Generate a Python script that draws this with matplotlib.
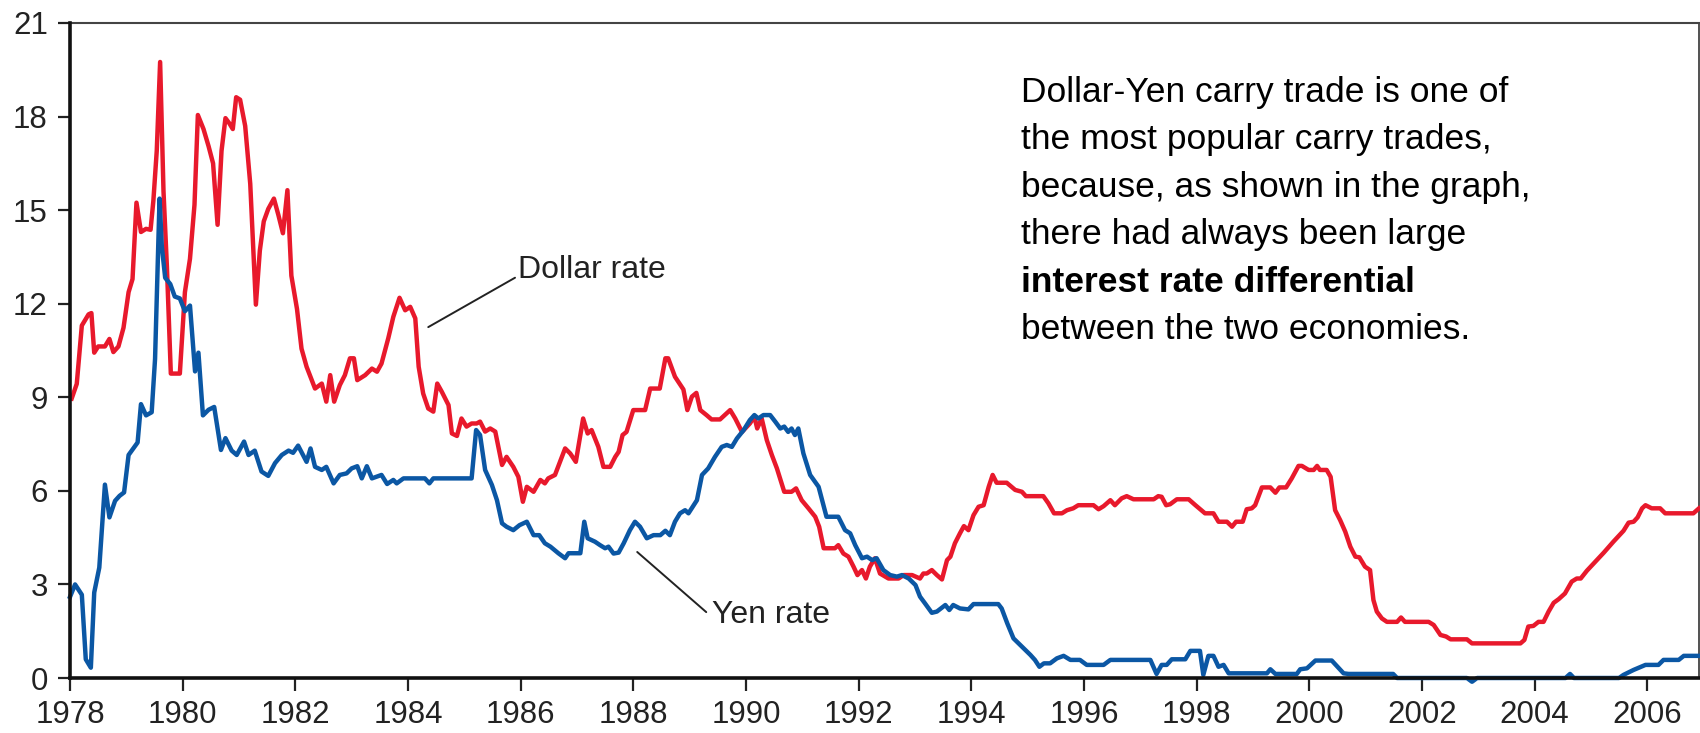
import matplotlib
matplotlib.use("Agg")
import matplotlib.pyplot as plt

# ── DATA ───────────────────────────────────────────────────────────────────────
dollar_years = [
    1978.03, 1978.12, 1978.21, 1978.33, 1978.38, 1978.43, 1978.50, 1978.62, 1978.70, 1978.77,
    1978.86, 1978.95, 1979.04, 1979.11, 1979.18, 1979.26, 1979.35, 1979.43, 1979.48, 1979.54,
    1979.60, 1979.66, 1979.72, 1979.79, 1979.95, 1980.04, 1980.13, 1980.21, 1980.27, 1980.37,
    1980.46, 1980.54, 1980.62, 1980.69, 1980.76, 1980.83, 1980.89, 1980.95, 1981.02, 1981.11,
    1981.20, 1981.30, 1981.37, 1981.44, 1981.52, 1981.62, 1981.70, 1981.78, 1981.86, 1981.93,
    1982.03, 1982.11, 1982.20, 1982.35, 1982.47, 1982.55, 1982.62, 1982.69, 1982.79, 1982.88,
    1982.97, 1983.04, 1983.10, 1983.24, 1983.36, 1983.45, 1983.53, 1983.65, 1983.74, 1983.85,
    1983.95, 1984.04, 1984.13, 1984.19, 1984.27, 1984.36, 1984.45, 1984.52, 1984.60, 1984.72,
    1984.78, 1984.87, 1984.95, 1985.04, 1985.13, 1985.22, 1985.28, 1985.37, 1985.46, 1985.55,
    1985.67, 1985.75, 1985.87, 1985.96, 1986.04, 1986.11, 1986.23, 1986.35, 1986.43, 1986.49,
    1986.61, 1986.79, 1986.88, 1986.98, 1987.11, 1987.19, 1987.26, 1987.38, 1987.47, 1987.59,
    1987.68, 1987.74, 1987.81, 1987.88, 1988.00, 1988.21, 1988.30, 1988.47, 1988.57, 1988.62,
    1988.74, 1988.89, 1988.96, 1989.04, 1989.12, 1989.19, 1989.30, 1989.39, 1989.54, 1989.72,
    1989.81, 1989.93, 1990.07, 1990.15, 1990.20, 1990.28, 1990.37, 1990.46, 1990.55, 1990.68,
    1990.81, 1990.89, 1990.99, 1991.11, 1991.23, 1991.30, 1991.38, 1991.58, 1991.64, 1991.73,
    1991.82, 1991.91, 1991.98, 1992.06, 1992.13, 1992.20, 1992.29, 1992.38, 1992.53, 1992.71,
    1992.80, 1992.95, 1993.09, 1993.15, 1993.21, 1993.30, 1993.39, 1993.48, 1993.57, 1993.63,
    1993.71, 1993.80, 1993.87, 1993.95, 1994.04, 1994.13, 1994.22, 1994.31, 1994.38, 1994.45,
    1994.63, 1994.78, 1994.90, 1994.97, 1995.28, 1995.37, 1995.47, 1995.61, 1995.70, 1995.81,
    1995.90, 1996.17, 1996.26, 1996.35, 1996.47, 1996.55, 1996.67, 1996.76, 1996.88, 1997.24,
    1997.32, 1997.38, 1997.46, 1997.53, 1997.65, 1997.86, 1997.98, 1998.15, 1998.30, 1998.39,
    1998.54, 1998.63, 1998.70, 1998.82, 1998.89, 1998.98, 1999.04, 1999.16, 1999.31, 1999.40,
    1999.47, 1999.59, 1999.69, 1999.81, 1999.87, 1999.99, 2000.08, 2000.14, 2000.19, 2000.31,
    2000.38, 2000.46, 2000.55, 2000.64, 2000.73, 2000.82, 2000.89, 2000.99, 2001.08, 2001.14,
    2001.20, 2001.29, 2001.38, 2001.56, 2001.63, 2001.70, 2002.12, 2002.21, 2002.33, 2002.43,
    2002.51, 2002.80, 2002.89, 2003.75, 2003.82, 2003.89, 2003.98, 2004.07, 2004.16, 2004.25,
    2004.34, 2004.43, 2004.54, 2004.66, 2004.75, 2004.82, 2004.93, 2005.23, 2005.40, 2005.58,
    2005.67, 2005.76, 2005.83, 2005.91, 2005.97, 2006.08, 2006.23, 2006.32, 2006.82, 2006.92,
]
dollar_rate = [
    8.96, 9.43, 11.30, 11.66, 11.70, 10.43, 10.63, 10.63, 10.87, 10.45,
    10.63, 11.23, 12.37, 12.79, 15.24, 14.30, 14.40, 14.37, 15.30, 16.90,
    19.75, 15.60, 13.20, 9.76, 9.76, 12.37, 13.44, 15.17, 18.05, 17.60,
    17.05, 16.50, 14.53, 16.90, 17.95, 17.78, 17.60, 18.62, 18.54, 17.70,
    15.84, 11.97, 13.70, 14.64, 15.04, 15.37, 14.84, 14.26, 15.64, 12.90,
    11.83, 10.56, 9.98, 9.28, 9.44, 8.86, 9.71, 8.86, 9.39, 9.71,
    10.25, 10.25, 9.55, 9.71, 9.92, 9.82, 10.08, 10.89, 11.58, 12.19,
    11.79, 11.90, 11.53, 9.98, 9.12, 8.64, 8.54, 9.44, 9.18, 8.75,
    7.84, 7.76, 8.32, 8.06, 8.16, 8.16, 8.22, 7.90, 8.00, 7.90,
    6.83, 7.09, 6.77, 6.45, 5.65, 6.13, 5.97, 6.35, 6.24, 6.40,
    6.51, 7.36, 7.20, 6.93, 8.32, 7.84, 7.95, 7.41, 6.77, 6.77,
    7.09, 7.25, 7.79, 7.89, 8.59, 8.59, 9.28, 9.28, 10.25, 10.25,
    9.66, 9.25, 8.59, 9.02, 9.14, 8.59, 8.43, 8.29, 8.29, 8.59,
    8.32, 7.89, 8.16, 8.38, 8.00, 8.32, 7.63, 7.15, 6.72, 5.97,
    5.97, 6.08, 5.70, 5.44, 5.17, 4.85, 4.16, 4.16, 4.26, 3.99,
    3.89, 3.57, 3.30, 3.46, 3.19, 3.57, 3.84, 3.35, 3.19, 3.19,
    3.30, 3.30, 3.19, 3.35, 3.35, 3.46, 3.30, 3.16, 3.78, 3.89,
    4.32, 4.64, 4.87, 4.74, 5.22, 5.49, 5.54, 6.13, 6.51, 6.26,
    6.26, 6.03, 5.97, 5.83, 5.83, 5.60, 5.28, 5.28, 5.38, 5.44,
    5.54, 5.54, 5.41, 5.51, 5.70, 5.54, 5.76, 5.83, 5.73, 5.73,
    5.83, 5.81, 5.54, 5.57, 5.73, 5.73, 5.54, 5.28, 5.28, 5.01,
    5.01, 4.85, 5.01, 5.01, 5.41, 5.44, 5.54, 6.11, 6.11, 5.94,
    6.11, 6.11, 6.40, 6.80, 6.80, 6.67, 6.67, 6.80, 6.67, 6.67,
    6.45, 5.38, 5.06, 4.69, 4.21, 3.89, 3.87, 3.57, 3.46, 2.50,
    2.13, 1.91, 1.80, 1.80, 1.94, 1.80, 1.80, 1.70, 1.38, 1.33,
    1.24, 1.24, 1.11, 1.11, 1.22, 1.65, 1.67, 1.80, 1.80, 2.13,
    2.41, 2.53, 2.71, 3.09, 3.19, 3.19, 3.44, 4.02, 4.37, 4.72,
    4.98, 5.01, 5.15, 5.44, 5.54, 5.44, 5.44, 5.28, 5.28, 5.44,
]

yen_years = [
    1978.00, 1978.09, 1978.21, 1978.28, 1978.37, 1978.43, 1978.52, 1978.62, 1978.70, 1978.80,
    1978.88, 1978.96, 1979.04, 1979.12, 1979.20, 1979.26, 1979.35, 1979.45, 1979.51, 1979.59,
    1979.63, 1979.69, 1979.78, 1979.86, 1979.95, 1980.04, 1980.13, 1980.22, 1980.28, 1980.36,
    1980.46, 1980.56, 1980.68, 1980.76, 1980.87, 1980.96, 1981.09, 1981.17, 1981.28, 1981.40,
    1981.52, 1981.64, 1981.76, 1981.88, 1981.96, 1982.05, 1982.20, 1982.27, 1982.35, 1982.47,
    1982.55, 1982.68, 1982.79, 1982.91, 1983.00, 1983.10, 1983.18, 1983.27, 1983.36, 1983.53,
    1983.63, 1983.74, 1983.80, 1983.92, 1984.30, 1984.38, 1984.45, 1985.13, 1985.21, 1985.28,
    1985.37, 1985.49, 1985.58, 1985.67, 1985.75, 1985.87, 1985.98, 1986.11, 1986.23, 1986.33,
    1986.43, 1986.53, 1986.67, 1986.79, 1986.85, 1987.06, 1987.13, 1987.19, 1987.32, 1987.41,
    1987.50, 1987.56, 1987.65, 1987.74, 1987.83, 1987.94, 1988.03, 1988.12, 1988.24, 1988.36,
    1988.48, 1988.57, 1988.65, 1988.74, 1988.83, 1988.92, 1988.98, 1989.13, 1989.22, 1989.33,
    1989.45, 1989.57, 1989.66, 1989.75, 1989.84, 1989.96, 1990.07, 1990.15, 1990.22, 1990.31,
    1990.43, 1990.52, 1990.61, 1990.68, 1990.75, 1990.81, 1990.87, 1990.93, 1991.02, 1991.14,
    1991.29, 1991.43, 1991.64, 1991.76, 1991.85, 1991.94, 1992.06, 1992.15, 1992.24, 1992.32,
    1992.44, 1992.56, 1992.68, 1992.77, 1992.89, 1993.01, 1993.09, 1993.18, 1993.30, 1993.39,
    1993.54, 1993.61, 1993.68, 1993.80, 1993.95, 1994.04, 1994.48, 1994.54, 1994.64, 1994.75,
    1994.84, 1994.93, 1995.05, 1995.13, 1995.21, 1995.29, 1995.40, 1995.52, 1995.64, 1995.76,
    1995.93, 1996.05, 1996.35, 1996.47, 1997.18, 1997.29, 1997.38, 1997.47, 1997.56, 1997.80,
    1997.89, 1998.06, 1998.12, 1998.21, 1998.30, 1998.39, 1998.48, 1998.57, 1999.25, 1999.31,
    1999.40, 1999.78, 1999.84, 1999.96, 2000.11, 2000.40, 2000.61, 2000.70, 2001.49, 2001.56,
    2002.80, 2002.89, 2002.98, 2004.55, 2004.63, 2004.70, 2005.50, 2005.58, 2005.76, 2005.97,
    2006.20, 2006.29, 2006.56, 2006.65, 2006.92,
]
yen_rate = [
    2.60, 3.00, 2.67, 0.60, 0.33, 2.74, 3.54, 6.20, 5.15, 5.68,
    5.84, 5.95, 7.15, 7.35, 7.55, 8.78, 8.42, 8.52, 10.23, 15.37,
    13.84, 12.83, 12.63, 12.23, 12.17, 11.76, 11.94, 9.83, 10.43, 8.42,
    8.60, 8.69, 7.31, 7.69, 7.29, 7.15, 7.58, 7.15, 7.29, 6.62,
    6.48, 6.89, 7.15, 7.29, 7.22, 7.45, 6.93, 7.36, 6.77, 6.67,
    6.77, 6.24, 6.51, 6.56, 6.72, 6.79, 6.40, 6.79, 6.40, 6.51,
    6.22, 6.35, 6.24, 6.40, 6.40, 6.24, 6.40, 6.40, 7.95, 7.79,
    6.67, 6.19, 5.70, 4.96, 4.85, 4.74, 4.90, 5.01, 4.58, 4.58,
    4.32, 4.21, 4.00, 3.84, 4.00, 4.00, 5.01, 4.48, 4.37, 4.26,
    4.16, 4.21, 3.99, 4.02, 4.32, 4.74, 5.01, 4.85, 4.48, 4.58,
    4.58, 4.72, 4.58, 5.01, 5.28, 5.38, 5.28, 5.70, 6.51, 6.72,
    7.09, 7.41, 7.47, 7.41, 7.68, 7.95, 8.27, 8.43, 8.32, 8.43,
    8.43, 8.22, 8.00, 8.06, 7.89, 8.00, 7.79, 8.00, 7.20, 6.51,
    6.13, 5.17, 5.17, 4.74, 4.64, 4.26, 3.84, 3.89, 3.78, 3.84,
    3.46, 3.30, 3.25, 3.30, 3.19, 2.98, 2.61, 2.39, 2.09, 2.13,
    2.34, 2.18, 2.34, 2.23, 2.20, 2.37, 2.37, 2.23, 1.75, 1.27,
    1.11, 0.95, 0.74, 0.58, 0.36, 0.47, 0.47, 0.63, 0.71, 0.58,
    0.58, 0.42, 0.42, 0.58, 0.58, 0.13, 0.42, 0.42, 0.60, 0.60,
    0.87, 0.87, 0.10, 0.71, 0.71, 0.36, 0.42, 0.15, 0.15, 0.28,
    0.13, 0.13, 0.28, 0.31, 0.56, 0.56, 0.15, 0.13, 0.13, 0.00,
    0.00, -0.12, 0.00, 0.00, 0.13, 0.00, 0.00, 0.10, 0.26, 0.42,
    0.42, 0.58, 0.58, 0.71, 0.71,
]

x_ticks = [1978, 1980, 1982, 1984, 1986, 1988, 1990, 1992, 1994, 1996, 1998, 2000, 2002, 2004, 2006]
y_ticks = [0, 3, 6, 9, 12, 15, 18, 21]

note_lines = [
    ("Dollar-Yen carry trade is one of", "normal"),
    ("the most popular carry trades,", "normal"),
    ("because, as shown in the graph,", "normal"),
    ("there had always been large", "normal"),
    ("interest rate differential", "bold"),
    ("between the two economies.", "normal"),
]

# ── STYLE ──────────────────────────────────────────────────────────────────────
RED  = "#E8192C"
BLUE = "#0B57A4"
W, H = 1700, 733

plt.rcParams["font.family"] = ["Liberation Sans", "DejaVu Sans"]

fig = plt.figure(figsize=(W / 100, H / 100), dpi=100)
ax = fig.add_axes([70 / W, 55 / H, (1699 - 70) / W, (678 - 23) / H])

ax.plot(dollar_years, dollar_rate, color=RED, lw=3.2, clip_on=False, zorder=3)
ax.plot(yen_years, yen_rate, color=BLUE, lw=3.2, clip_on=False, zorder=3)

ax.set_xlim(1978, 2006.92)
ax.set_ylim(0, 21)
ax.set_xticks(x_ticks)
ax.set_yticks(y_ticks)
ax.tick_params(axis="both", direction="out", length=9, width=1.6,
               labelsize=22.5, pad=7, colors="#222222")

for side in ("left", "bottom"):
    ax.spines[side].set_linewidth(2.6)
    ax.spines[side].set_color("#111111")
    ax.spines[side].set_zorder(4)
ax.spines["top"].set_linewidth(1.5)
ax.spines["top"].set_color("#444444")
ax.spines["right"].set_linewidth(1.2)
ax.spines["right"].set_color("#333333")

# ── LABELS ─────────────────────────────────────────────────────────────────────
ax.annotate("Dollar rate", xy=(1984.36, 11.25), xytext=(1985.95, 12.82),
            fontsize=23, color="#222222", va="baseline", ha="left",
            arrowprops=dict(arrowstyle="-", color="#222222", lw=1.4,
                            shrinkA=0, shrinkB=0,
                            relpos=(0, 0.3)))
ax.annotate("Yen rate", xy=(1988.07, 4.04), xytext=(1989.40, 1.76),
            fontsize=23, color="#222222", va="baseline", ha="left",
            arrowprops=dict(arrowstyle="-", color="#222222", lw=1.4,
                            shrinkA=0, shrinkB=0,
                            relpos=(-0.05, 0.6)))

for i, (line, weight) in enumerate(note_lines):
    fig.text(1021 / W, (H - (102 + i * 47.4)) / H, line,
             fontsize=25.5, fontweight=weight, color="black", va="baseline")

fig.savefig("out.png", dpi=100)
